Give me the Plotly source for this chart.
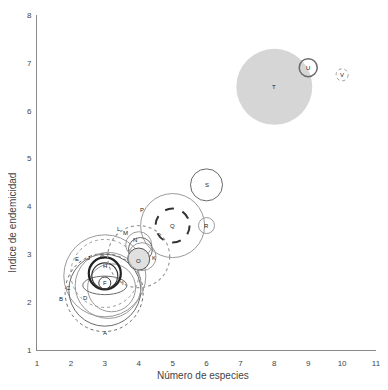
import plotly.graph_objects as go

# ---- data ----
etiquetas = ["T", "U", "V", "S", "R", "P", "Q",
             "B", "E", "A", "C", "J", "D", "I", "H", "G", "F",
             "L", "M", "N", "O", "K"]
num_especies = [8.0, 9.0, 10.0, 6.0, 6.0, 5.0, 5.0,
                2.98, 3.0, 3.0, 3.1, 3.0, 3.2, 3.0, 3.0, 3.0, 3.0,
                4.0, 4.0, 4.05, 4.0, 4.1]
indice_endemicidad = [6.5, 6.9, 6.75, 4.45, 3.6, 3.6, 3.6,
                      2.2, 2.55, 2.25, 2.35, 2.6, 2.3, 2.35, 2.6, 2.55, 2.4,
                      2.95, 3.2, 3.1, 2.9, 2.95]
magnitud = [38, 9, 6, 16, 8, 32, 17,
            39, 41, 36, 33, 34, 24, 22, 16, 13, 6,
            31, 13, 12, 11, 14]

x_ticks = [1, 2, 3, 4, 5, 6, 7, 8, 9, 10, 11]
y_ticks = [1, 2, 3, 4, 5, 6, 7, 8]

# ---- styles (per circle) ----
G1 = "#9a9a9a"
G2 = "#6a6a6a"
estilos = {
    "T": dict(color="rgba(0,0,0,0)", width=0, dash="solid", fill="#d6d6d6"),
    "U": dict(color="#6a6a6a", width=1.5, dash="solid", fill=None),
    "V": dict(color=G1, width=1, dash="dot", fill=None),
    "S": dict(color=G2, width=1, dash="solid", fill=None),
    "R": dict(color=G1, width=1, dash="solid", fill=None),
    "P": dict(color=G1, width=1, dash="solid", fill=None),
    "Q": dict(color="#333333", width=2, dash="dash", fill=None),
    "B": dict(color=G2, width=1, dash="dot", fill=None),
    "E": dict(color=G1, width=1, dash="solid", fill=None),
    "A": dict(color=G2, width=1, dash="solid", fill=None),
    "C": dict(color=G1, width=1, dash="solid", fill=None),
    "J": dict(color=G1, width=1, dash="dot", fill=None),
    "D": dict(color=G1, width=1, dash="solid", fill=None),
    "I": dict(color=G2, width=1, dash="solid", fill=None),
    "H": dict(color="#222222", width=2.2, dash="solid", fill=None),
    "G": dict(color="#333333", width=1.2, dash="solid", fill=None),
    "F": dict(color="#444444", width=1, dash="solid", fill=None),
    "L": dict(color=G1, width=1.2, dash="dot", fill=None),
    "M": dict(color=G1, width=1, dash="solid", fill=None),
    "N": dict(color=G2, width=1, dash="solid", fill=None),
    "O": dict(color="#555555", width=1, dash="solid", fill="#e0e0e0"),
    "K": dict(color=G1, width=1, dash="solid", fill=None),
}
aspecto = {"I": 0.42}
desplaz = {  # label offsets in px (x, y up)
    "P": (-31, 16), "B": (-43, -6), "E": (-28, 17), "A": (0, -43),
    "C": (-40, -3), "J": (-16, 15), "D": (-26, -10), "I": (18, 2),
    "H": (0, 7), "G": (-2, 19), "L": (-20, 28), "M": (-13, 12),
    "N": (-5, 10), "O": (0, -2), "K": (12, -1),
}

fig = go.Figure()
fig.add_trace(go.Scatter(x=num_especies, y=indice_endemicidad, mode="markers",
                         marker=dict(size=1, color="rgba(0,0,0,0)"),
                         hoverinfo="text", text=etiquetas, showlegend=False))

shapes = []
annotations = []
for lab, xv, yv, r in zip(etiquetas, num_especies, indice_endemicidad, magnitud):
    st = estilos[lab]
    ry = r * aspecto.get(lab, 1.0)
    sh = dict(type="circle", xref="x", yref="y", xsizemode="pixel", ysizemode="pixel",
              xanchor=xv, yanchor=yv, x0=-r, x1=r, y0=-ry, y1=ry,
              line=dict(color=st["color"], width=st["width"], dash=st["dash"]),
              layer="above")
    if st["fill"]:
        sh["fillcolor"] = st["fill"]
    shapes.append(sh)
    dx, dy = desplaz.get(lab, (0, 0))
    annotations.append(dict(x=xv, y=yv, xref="x", yref="y", text=lab, showarrow=False,
                            xshift=dx, yshift=dy,
                            font=dict(size=6, color="#222222", family="Liberation Sans, Arial")))

annotations.append(dict(text="Índice de endemicidad", x=0, xref="paper", xanchor="center",
                        xshift=-25, y=0.38, yref="paper", yanchor="middle", textangle=-90,
                        showarrow=False,
                        font=dict(size=10, color="#444444", family="Liberation Sans, Arial")))
annotations.append(dict(text="Número de especies", x=0.49, xref="paper", xanchor="center",
                        y=0, yref="paper", yanchor="top", yshift=-18, showarrow=False,
                        font=dict(size=10, color="#444444", family="Liberation Sans, Arial")))

fig.update_layout(
    width=380, height=382,
    margin=dict(l=29, r=12, t=7, b=40),
    paper_bgcolor="white", plot_bgcolor="white",
    shapes=shapes, annotations=annotations,
    font=dict(family="Liberation Sans, Arial", size=8, color="#444444"),
    xaxis=dict(range=[1, 11], tickvals=x_ticks, showgrid=False, zeroline=False,
               showline=True, linecolor="#8a8a8a", linewidth=1, ticks="outside",
               ticklen=5, tickcolor="rgba(0,0,0,0)", tickfont=dict(size=8),
               automargin=False, ticklabeloverflow="allow"),
    yaxis=dict(range=[1, 8], tickvals=y_ticks, showgrid=False, zeroline=False,
               showline=True, linecolor="#8a8a8a", linewidth=1, ticks="outside",
               ticklen=3, tickcolor="rgba(0,0,0,0)", tickfont=dict(size=8),
               automargin=False, ticklabeloverflow="allow"),
)

fig.write_html("out.html")
